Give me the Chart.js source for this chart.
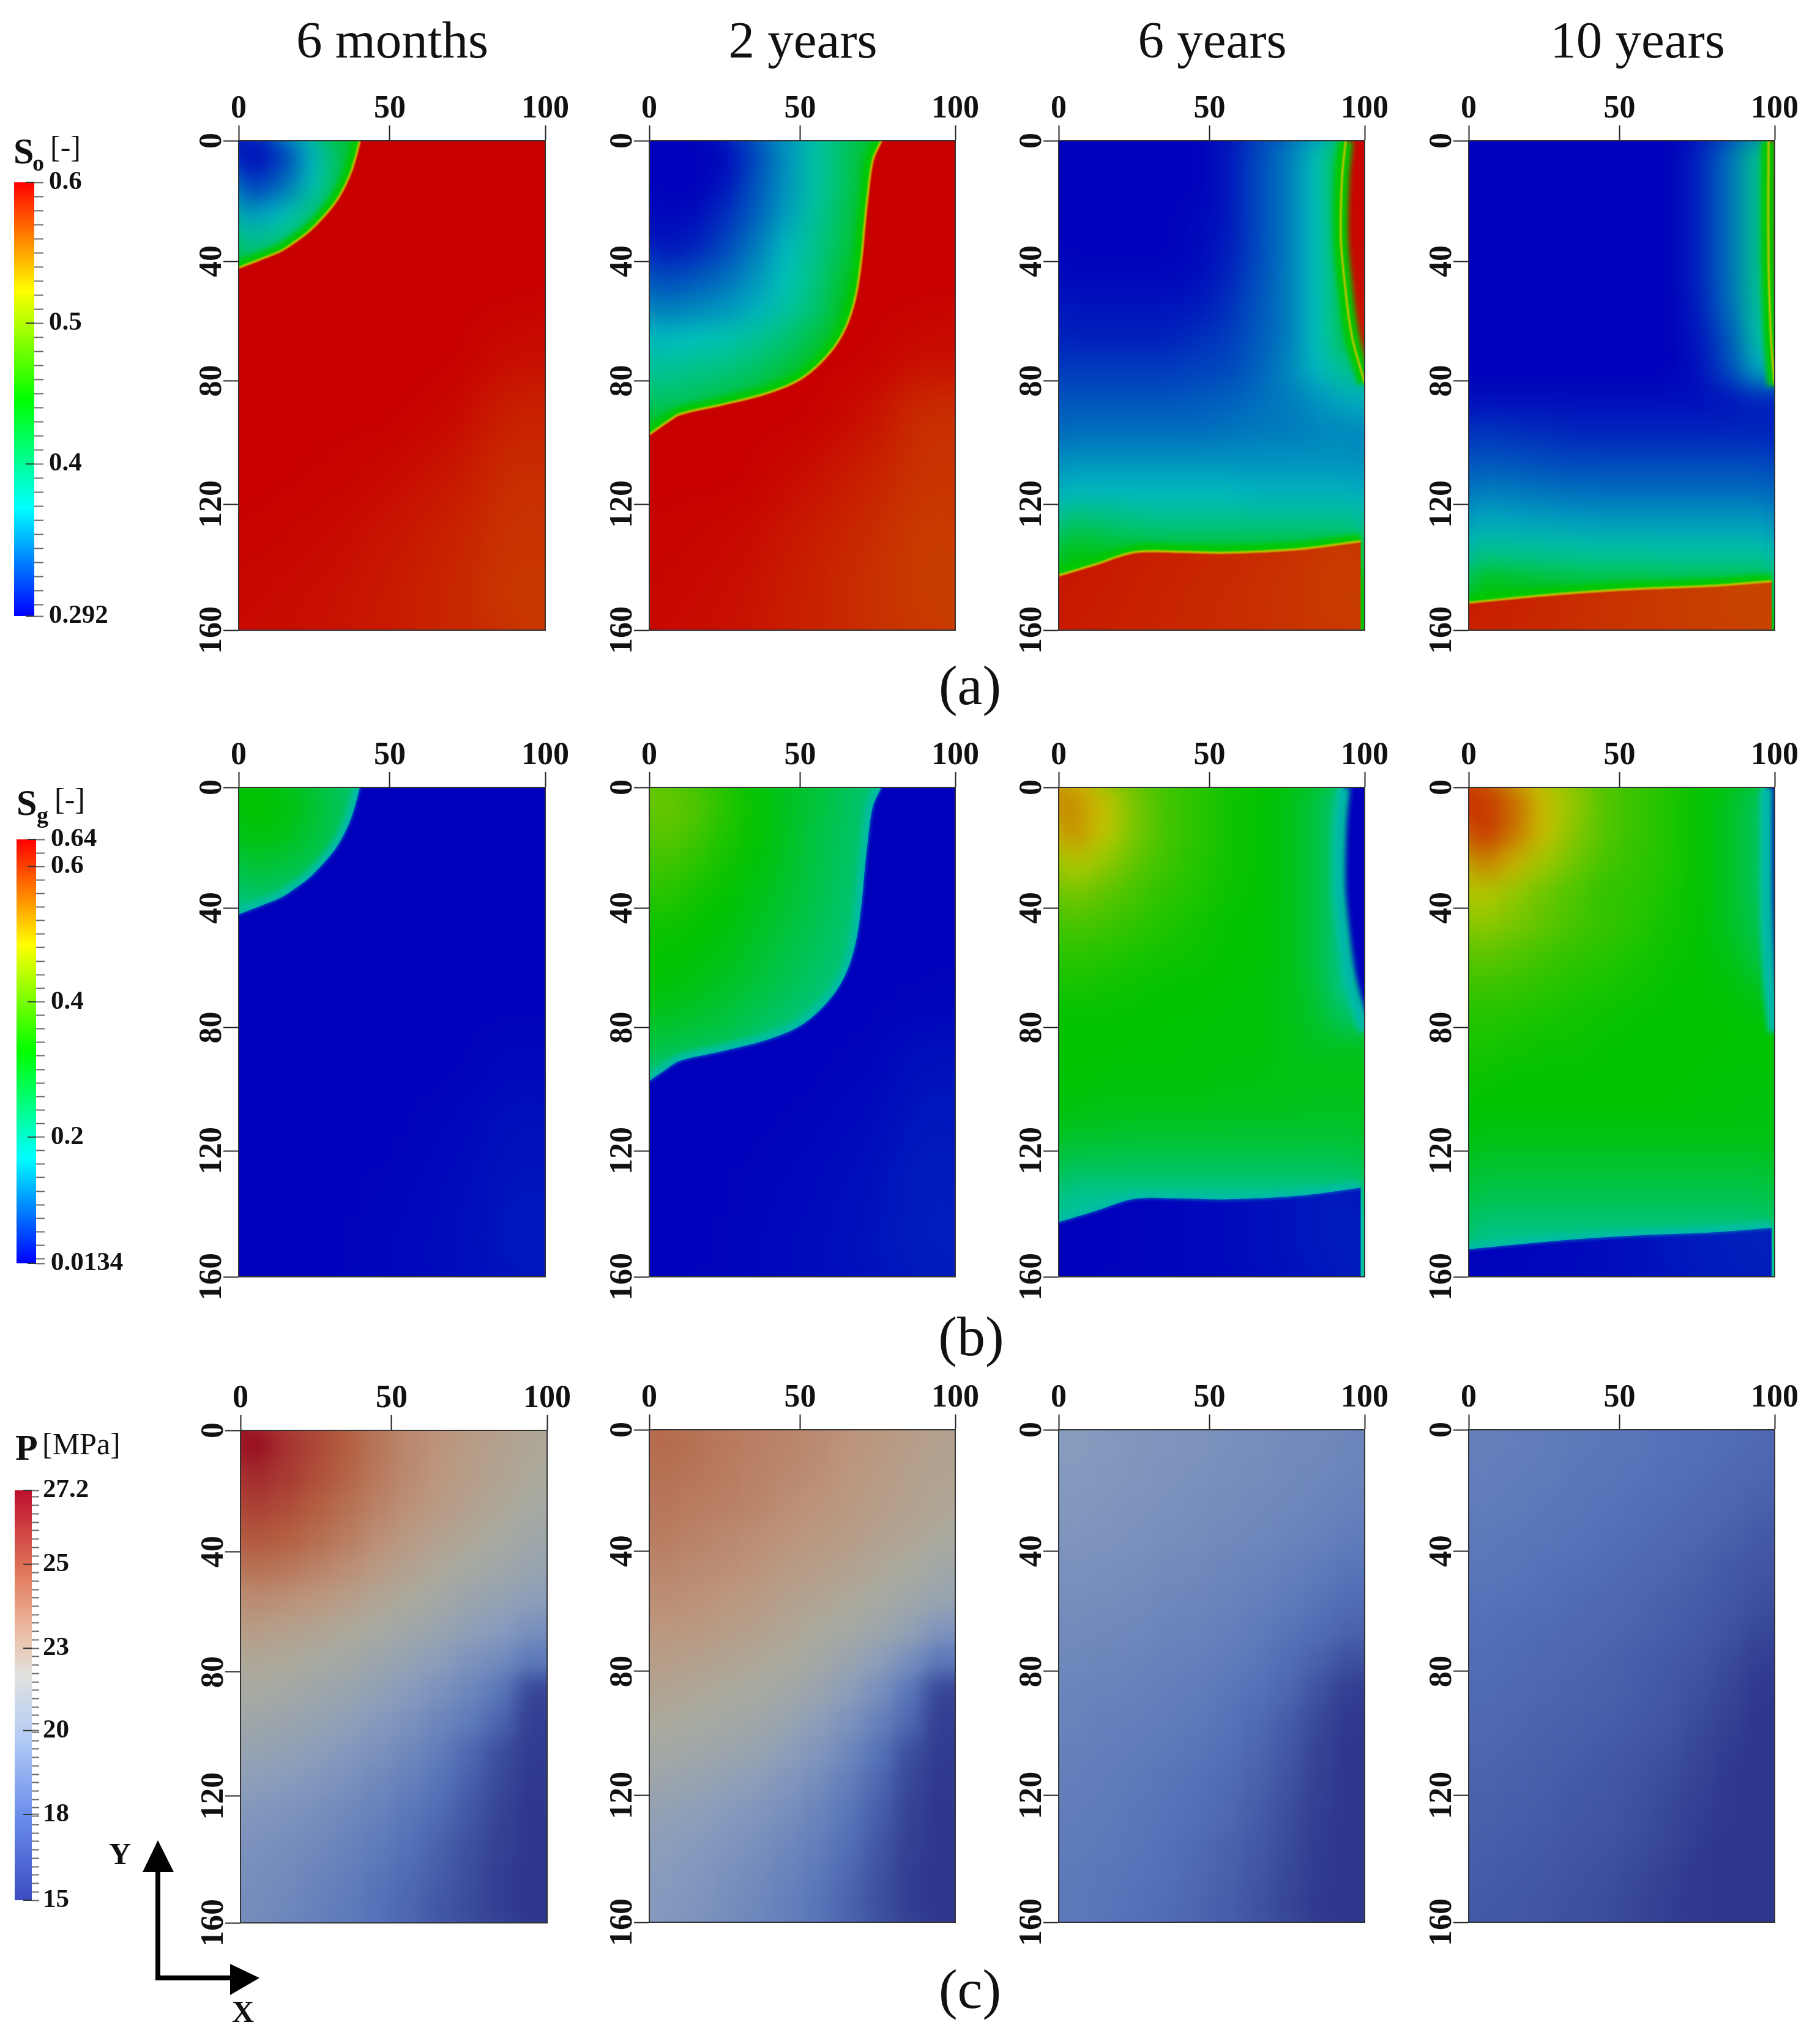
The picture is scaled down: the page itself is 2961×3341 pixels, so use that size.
<!DOCTYPE html>
<html><head><meta charset="utf-8">
<style>
html,body{margin:0;padding:0;background:#fff;width:2961px;height:3341px;overflow:hidden}
canvas{position:absolute;display:block}
.t{position:absolute;font-family:"Liberation Serif",serif;color:#111;white-space:nowrap;line-height:1}
.b{font-weight:bold}
svg{position:absolute;left:0;top:0}
</style>
<script src="https://cdn.jsdelivr.net/npm/chart.js@4"></script>
</head><body>
<svg width="2961" height="3341">
<path d="M258 3052V3233H385" fill="none" stroke="#000" stroke-width="8"/>
<path d="M258 3008L284 3060H233Z M424 3233L376 3210V3261Z" fill="#000"/>
</svg>
<script>
// ---- axis and legend labels
const timeLabels=["6 months","2 years","6 years","10 years"];
const panelLetters=["(a)","(b)","(c)"];
const xTickValues=[0,49.3,100];
const xTickLabels=["0","50","100"];
const yTickValues=[0,39.4,78.5,118.8,160];
const yTickLabels=["0","40","80","120","160"];
const soLegendRange=[0.292,0.6];
const sgLegendRange=[0.0134,0.64];
const pLegendRange=[15,27.2];
const soLegendLabels=[[0.292,"0.292"],[0.4,"0.4"],[0.5,"0.5"],[0.6,"0.6"]];
const sgLegendLabels=[[0.0134,"0.0134"],[0.2,"0.2"],[0.4,"0.4"],[0.6,"0.6"],[0.64,"0.64"]];
const pLegendLabels=[[15,"15"],[17.55,"18"],[20.05,"20"],[22.5,"23"],[25,"25"],[27.2,"27.2"]];

// ---- cell centres
const cellX=[5,15,25,35,45,55,65,75,85,95];
const cellY=[5,15,25,35,45,55,65,75,85,95,105,115,125,135,145,155];
const coarseX=[10,30,50,70,90];
const coarseY=[10,30,50,70,90,110,130,150];

// ---- displacement fronts (x,y in grid units)
const front6m=[[39.5,0],[38.5,4],[36.7,10],[34.5,15],[31.6,20],[27.5,25],[22.7,29.8],[18,33.3],[13.8,36],[7,38.8],[0,41.5]];
const front6mClose=[[0,160],[100,160],[100,0]];
const front2y=[[75.8,0],[73,6.5],[71.3,18.6],[70.3,28],[69.4,37.8],[67.5,50.5],[64.3,60.7],[59.2,69],[50.3,77.3],[38.8,82.4],[23.5,86.3],[10,89.4],[5.7,92],[0,96]];
const front2yClose=[[0,160],[100,160],[100,0]];
const front6yRight=[[93.8,0],[92.6,12.3],[92.2,31.4],[93.2,44],[95.7,63.3],[100,79.2]];
const front6yRightGas=[[93,0],[91.9,12.3],[91.5,31.4],[92.5,44],[95.2,63.3],[100,79.5]];
const front6yRightClose=[[100,0]];
const front6yBottom=[[0,142.1],[12,138.5],[24.9,134.5],[40,134.4],[54,134.7],[78.5,133.5],[98.7,130.9]];
const front6yBottomClose=[[98.7,160],[0,160]];
const front10yRight=[[98,0],[97.9,20],[98,40],[98.4,55],[99,68],[100,80]];
const front10yRightGas=[[97.2,0],[97.1,20],[97.3,40],[97.8,55],[98.6,68],[100,80]];
const front10yRightClose=[[100,0]];
const front10yBottom=[[0,151],[30.3,148.1],[54.8,146.5],[79.3,145.5],[99,144]];
const front10yBottomClose=[[99,160],[0,160]];

// ---- oil saturation, invaded zone
const so6mInner=[
[.292,.315,.365,.42,.45,.45,.45,.45,.45,.45],
[.315,.335,.375,.425,.45,.45,.45,.45,.45,.45],
[.355,.37,.40,.44,.45,.45,.45,.45,.45,.45],
[.39,.405,.435,.45,.45,.45,.45,.45,.45,.45],
[.43,.44,.45,.45,.45,.45,.45,.45,.45,.45],
[.45,.45,.45,.45,.45,.45,.45,.45,.45,.45],
[.45,.45,.45,.45,.45,.45,.45,.45,.45,.45],[.45,.45,.45,.45,.45,.45,.45,.45,.45,.45],
[.45,.45,.45,.45,.45,.45,.45,.45,.45,.45],[.45,.45,.45,.45,.45,.45,.45,.45,.45,.45],
[.45,.45,.45,.45,.45,.45,.45,.45,.45,.45],[.45,.45,.45,.45,.45,.45,.45,.45,.45,.45],
[.45,.45,.45,.45,.45,.45,.45,.45,.45,.45],[.45,.45,.45,.45,.45,.45,.45,.45,.45,.45],
[.45,.45,.45,.45,.45,.45,.45,.45,.45,.45],[.45,.45,.45,.45,.45,.45,.45,.45,.45,.45]];
const so2yInner=[
[.292,.292,.295,.32,.35,.38,.41,.44,.45,.45],
[.292,.292,.30,.325,.35,.38,.41,.445,.45,.45],
[.295,.297,.31,.33,.355,.385,.415,.45,.45,.45],
[.30,.305,.32,.34,.365,.39,.42,.45,.45,.45],
[.32,.325,.335,.35,.372,.395,.43,.45,.45,.45],
[.34,.345,.35,.362,.38,.40,.44,.45,.45,.45],
[.365,.37,.375,.385,.40,.42,.45,.45,.45,.45],
[.385,.39,.395,.405,.42,.44,.45,.45,.45,.45],
[.405,.41,.42,.43,.45,.45,.45,.45,.45,.45],
[.44,.45,.45,.45,.45,.45,.45,.45,.45,.45],
[.45,.45,.45,.45,.45,.45,.45,.45,.45,.45],[.45,.45,.45,.45,.45,.45,.45,.45,.45,.45],
[.45,.45,.45,.45,.45,.45,.45,.45,.45,.45],[.45,.45,.45,.45,.45,.45,.45,.45,.45,.45],
[.45,.45,.45,.45,.45,.45,.45,.45,.45,.45],[.45,.45,.45,.45,.45,.45,.45,.45,.45,.45]];
const so6yInner=[
[.292,.292,.292,.292,.292,.30,.32,.34,.372,.44],
[.292,.292,.292,.292,.292,.30,.32,.34,.372,.44],
[.292,.292,.292,.292,.295,.30,.32,.34,.37,.435],
[.292,.292,.292,.292,.295,.302,.32,.34,.37,.43],
[.295,.295,.295,.295,.297,.305,.322,.34,.37,.425],
[.30,.30,.30,.30,.302,.31,.325,.34,.37,.42],
[.305,.305,.305,.305,.31,.315,.327,.34,.37,.42],
[.315,.315,.315,.315,.318,.32,.33,.345,.365,.39],
[.325,.325,.325,.325,.327,.33,.335,.34,.35,.36],
[.335,.335,.335,.335,.335,.337,.34,.34,.345,.345],
[.35,.35,.35,.35,.35,.35,.35,.35,.35,.35],
[.365,.365,.365,.365,.365,.365,.362,.362,.362,.362],
[.405,.40,.395,.39,.39,.39,.39,.39,.39,.39],
[.44,.435,.43,.43,.43,.43,.43,.43,.43,.43],
[.45,.45,.45,.45,.45,.45,.45,.45,.45,.45],[.45,.45,.45,.45,.45,.45,.45,.45,.45,.45]];
const so10yInner=[
[.292,.292,.292,.292,.292,.292,.292,.305,.335,.39],
[.292,.292,.292,.292,.292,.292,.292,.305,.335,.39],
[.292,.292,.292,.292,.292,.292,.292,.305,.335,.39],
[.292,.292,.292,.292,.292,.292,.292,.305,.335,.39],
[.292,.292,.292,.292,.292,.292,.292,.305,.335,.39],
[.292,.292,.292,.292,.292,.292,.292,.303,.333,.385],
[.292,.292,.292,.292,.292,.292,.292,.30,.325,.38],
[.292,.292,.292,.292,.292,.292,.292,.298,.32,.36],
[.298,.298,.298,.298,.298,.298,.298,.298,.30,.305],
[.312,.31,.308,.306,.306,.306,.306,.306,.306,.306],
[.326,.324,.322,.32,.32,.32,.32,.32,.32,.32],
[.342,.34,.338,.336,.335,.335,.335,.335,.335,.335],
[.36,.358,.356,.355,.354,.354,.354,.354,.354,.354],
[.39,.387,.385,.383,.381,.381,.38,.38,.38,.38],
[.44,.435,.43,.425,.425,.425,.42,.42,.42,.42],
[.45,.45,.45,.45,.45,.45,.45,.45,.45,.45]];

// ---- oil saturation, undisturbed zone
const so6mOuter=[[.6,.6,.6,.6,.6],[.6,.6,.6,.6,.6],[.6,.6,.6,.6,.6],[.6,.6,.6,.6,.595],[.6,.6,.6,.597,.587],[.6,.599,.596,.591,.582],[.598,.596,.592,.587,.58],[.596,.594,.59,.585,.578]];
const so2yOuter=[[.6,.6,.6,.6,.6],[.6,.6,.6,.6,.6],[.6,.6,.6,.6,.6],[.6,.6,.6,.6,.595],[.6,.6,.6,.595,.582],[.6,.6,.595,.588,.58],[.598,.596,.59,.584,.577],[.597,.594,.588,.582,.577]];
const so6yOuter=[[.6,.6,.6,.6,.598],[.6,.6,.6,.6,.598],[.6,.6,.6,.6,.595],[.6,.6,.6,.6,.59],[.6,.6,.6,.6,.59],[.6,.6,.6,.6,.585],[.592,.589,.586,.583,.578],[.59,.587,.584,.581,.577]];
const so10yOuter=[[.6,.6,.6,.6,.598],[.6,.6,.6,.6,.598],[.6,.6,.6,.6,.595],[.6,.6,.6,.6,.59],[.6,.6,.6,.6,.59],[.6,.6,.6,.6,.585],[.59,.587,.583,.58,.576],[.588,.584,.58,.577,.574]];

// ---- gas saturation, invaded zone
const sg6mInner=[
[.33,.32,.29,.25,.22,.2,.2,.2,.2,.2],
[.32,.31,.28,.25,.21,.2,.2,.2,.2,.2],
[.29,.28,.26,.23,.2,.2,.2,.2,.2,.2],
[.25,.24,.22,.2,.2,.2,.2,.2,.2,.2],
[.2,.2,.2,.2,.2,.2,.2,.2,.2,.2],[.2,.2,.2,.2,.2,.2,.2,.2,.2,.2],
[.2,.2,.2,.2,.2,.2,.2,.2,.2,.2],[.2,.2,.2,.2,.2,.2,.2,.2,.2,.2],
[.2,.2,.2,.2,.2,.2,.2,.2,.2,.2],[.2,.2,.2,.2,.2,.2,.2,.2,.2,.2],
[.2,.2,.2,.2,.2,.2,.2,.2,.2,.2],[.2,.2,.2,.2,.2,.2,.2,.2,.2,.2],
[.2,.2,.2,.2,.2,.2,.2,.2,.2,.2],[.2,.2,.2,.2,.2,.2,.2,.2,.2,.2],
[.2,.2,.2,.2,.2,.2,.2,.2,.2,.2],[.2,.2,.2,.2,.2,.2,.2,.2,.2,.2]];
const sg2yInner=[
[.41,.39,.36,.33,.30,.28,.25,.22,.2,.2],
[.40,.38,.35,.33,.30,.27,.25,.22,.2,.2],
[.38,.36,.34,.32,.295,.27,.245,.22,.2,.2],
[.36,.34,.33,.31,.29,.265,.24,.22,.2,.2],
[.34,.33,.32,.30,.28,.26,.235,.21,.2,.2],
[.33,.32,.31,.29,.27,.25,.23,.2,.2,.2],
[.32,.31,.295,.28,.26,.24,.22,.2,.2,.2],
[.30,.29,.28,.26,.24,.22,.2,.2,.2,.2],
[.27,.26,.25,.23,.21,.2,.2,.2,.2,.2],
[.22,.22,.2,.2,.2,.2,.2,.2,.2,.2],
[.2,.2,.2,.2,.2,.2,.2,.2,.2,.2],[.2,.2,.2,.2,.2,.2,.2,.2,.2,.2],
[.2,.2,.2,.2,.2,.2,.2,.2,.2,.2],[.2,.2,.2,.2,.2,.2,.2,.2,.2,.2],
[.2,.2,.2,.2,.2,.2,.2,.2,.2,.2],[.2,.2,.2,.2,.2,.2,.2,.2,.2,.2]];
const sg6yInner=[
[.53,.49,.42,.38,.36,.34,.33,.31,.27,.2],
[.53,.48,.42,.38,.36,.34,.33,.31,.27,.2],
[.47,.44,.40,.375,.355,.34,.33,.31,.27,.2],
[.42,.40,.38,.36,.35,.335,.33,.31,.27,.2],
[.385,.375,.365,.35,.34,.33,.325,.31,.27,.2],
[.36,.355,.345,.34,.335,.33,.325,.31,.27,.2],
[.345,.34,.335,.33,.33,.325,.32,.31,.28,.2],
[.33,.33,.33,.325,.325,.32,.32,.31,.29,.24],
[.33,.33,.325,.325,.32,.32,.32,.31,.30,.30],
[.325,.32,.32,.32,.32,.315,.315,.31,.31,.31],
[.315,.31,.31,.31,.31,.305,.305,.305,.30,.30],
[.29,.29,.285,.285,.285,.285,.285,.285,.285,.285],
[.25,.25,.25,.25,.25,.25,.25,.25,.25,.25],
[.2,.2,.2,.2,.2,.2,.2,.2,.2,.2],[.2,.2,.2,.2,.2,.2,.2,.2,.2,.2],[.2,.2,.2,.2,.2,.2,.2,.2,.2,.2]];
const sg10yInner=[
[.60,.56,.49,.44,.39,.37,.35,.33,.30,.25],
[.60,.55,.49,.43,.39,.37,.35,.33,.30,.25],
[.54,.50,.45,.41,.38,.365,.35,.33,.30,.25],
[.47,.44,.41,.385,.365,.36,.345,.33,.30,.25],
[.44,.42,.40,.38,.37,.355,.34,.33,.30,.26],
[.40,.39,.375,.365,.355,.345,.335,.33,.31,.27],
[.375,.37,.36,.35,.345,.34,.33,.33,.32,.30],
[.355,.35,.345,.34,.335,.33,.33,.33,.325,.32],
[.345,.34,.335,.335,.33,.33,.33,.33,.325,.325],
[.335,.33,.33,.33,.33,.33,.33,.325,.32,.32],
[.325,.325,.325,.325,.325,.325,.325,.32,.32,.315],
[.31,.31,.31,.31,.31,.31,.31,.31,.31,.31],
[.285,.285,.285,.285,.285,.285,.285,.285,.285,.285],
[.26,.26,.26,.26,.26,.26,.26,.26,.26,.26],
[.22,.22,.22,.22,.22,.22,.22,.22,.22,.22],
[.2,.2,.2,.2,.2,.2,.2,.2,.2,.2]];

// ---- gas saturation, undisturbed zone
const sg6mOuter=[[.0134,.0134,.0134,.0134,.0134],[.0134,.0134,.0134,.0134,.0134],[.0134,.0134,.0134,.0134,.0134],[.0134,.0134,.0134,.0134,.0134],[.0134,.0134,.0134,.0134,.02],[.0134,.0134,.0134,.018,.028],[.0134,.0134,.016,.022,.03],[.0134,.0134,.018,.024,.032]];
const sg2yOuter=[[.0134,.0134,.0134,.0134,.0134],[.0134,.0134,.0134,.0134,.0134],[.0134,.0134,.0134,.0134,.0134],[.0134,.0134,.0134,.0134,.016],[.0134,.0134,.0134,.016,.028],[.0134,.0134,.016,.022,.032],[.0134,.015,.02,.026,.036],[.0134,.016,.022,.028,.036]];
const sg6yOuter=[[.0134,.0134,.0134,.0134,.0134],[.0134,.0134,.0134,.0134,.0134],[.0134,.0134,.0134,.0134,.0134],[.0134,.0134,.0134,.0134,.0134],[.0134,.0134,.0134,.0134,.0134],[.0134,.0134,.0134,.0134,.0134],[.0134,.016,.02,.026,.034],[.0134,.016,.02,.026,.034]];
const sg10yOuter=[[.0134,.0134,.0134,.0134,.0134],[.0134,.0134,.0134,.0134,.0134],[.0134,.0134,.0134,.0134,.0134],[.0134,.0134,.0134,.0134,.0134],[.0134,.0134,.0134,.0134,.0134],[.0134,.0134,.0134,.0134,.0134],[.015,.02,.025,.032,.038],[.015,.02,.025,.032,.038]];

// ---- pressure
const p6m=[
[27.0,26.0,25.4,24.8,24.0,23.4,23.0,22.6,22.3,22.0],
[26.2,25.8,25.2,24.6,23.9,23.3,22.9,22.5,22.2,21.9],
[25.6,25.3,24.8,24.2,23.6,23.1,22.7,22.3,22.0,21.6],
[25.0,24.8,24.3,23.8,23.2,22.7,22.3,22.0,21.6,21.2],
[24.2,24.0,23.6,23.2,22.7,22.3,21.9,21.5,21.2,20.8],
[23.3,23.1,22.9,22.5,22.1,21.8,21.4,20.9,20.6,20.2],
[22.6,22.4,22.2,21.9,21.6,21.2,20.8,20.3,19.9,19.2],
[22.0,21.9,21.6,21.4,21.0,20.6,20.1,19.4,18.9,17.8],
[21.6,21.4,21.1,20.8,20.4,19.9,19.3,18.6,17.6,15.6],
[21.1,20.9,20.6,20.3,19.8,19.3,18.6,17.9,16.8,15.3],
[20.6,20.4,20.1,19.7,19.3,18.7,18.0,17.0,15.9,15.2],
[20.1,19.9,19.6,19.2,18.7,18.2,17.5,16.6,15.7,15.1],
[19.6,19.4,19.1,18.7,18.3,17.7,17.1,16.3,15.5,15.0],
[19.3,19.1,18.8,18.4,17.9,17.4,16.7,16.0,15.4,15.0],
[19.1,18.9,18.5,18.1,17.6,17.1,16.5,15.9,15.3,15.0],
[19.0,18.7,18.3,17.9,17.4,16.9,16.3,15.8,15.3,15.0]];
const p2y=[
[24.4,24.2,23.9,23.7,23.5,23.3,23.0,22.8,22.5,22.3],
[24.2,24.0,23.8,23.6,23.4,23.2,22.9,22.7,22.4,22.2],
[24.0,23.8,23.7,23.5,23.2,23.0,22.8,22.5,22.3,22.1],
[23.8,23.6,23.4,23.2,23.0,22.8,22.6,22.3,22.1,21.8],
[23.5,23.3,23.2,23.0,22.7,22.5,22.3,22.0,21.7,21.3],
[23.2,23.1,22.9,22.7,22.4,22.2,21.9,21.6,21.2,20.8],
[22.9,22.8,22.6,22.4,22.1,21.8,21.5,21.1,20.5,19.6],
[22.5,22.4,22.2,22.0,21.8,21.4,20.9,20.2,19.2,17.8],
[22.2,22.0,21.8,21.6,21.3,20.9,20.1,19.2,17.7,15.6],
[21.8,21.6,21.4,21.2,20.8,20.2,19.4,18.3,17.0,15.3],
[21.4,21.2,21.0,20.7,20.2,19.6,18.7,17.5,16.0,15.2],
[20.9,20.7,20.4,20.1,19.6,19.0,18.1,17.0,15.7,15.1],
[20.4,20.2,19.9,19.6,19.1,18.5,17.6,16.6,15.5,15.0],
[20.1,19.9,19.6,19.2,18.7,18.1,17.3,16.3,15.4,15.0],
[19.9,19.7,19.3,18.9,18.4,17.8,17.0,16.1,15.3,15.0],
[19.8,19.5,19.1,18.7,18.2,17.6,16.8,16.0,15.3,15.0]];
const p6y=[
[19.9,19.8,19.6,19.5,19.4,19.2,19.1,18.9,18.8,18.6],
[19.8,19.7,19.6,19.4,19.3,19.1,19.0,18.8,18.7,18.5],
[19.7,19.6,19.4,19.3,19.1,19.0,18.8,18.7,18.5,18.3],
[19.5,19.4,19.3,19.1,19.0,18.8,18.7,18.5,18.3,18.0],
[19.3,19.2,19.1,18.9,18.8,18.6,18.4,18.2,17.9,17.6],
[19.1,19.0,18.9,18.7,18.6,18.4,18.2,17.9,17.6,17.2],
[18.9,18.8,18.7,18.5,18.4,18.2,17.9,17.6,17.2,16.8],
[18.7,18.6,18.5,18.3,18.2,18.0,17.7,17.2,16.7,16.0],
[18.5,18.4,18.3,18.1,18.0,17.7,17.4,16.9,16.1,15.3],
[18.4,18.2,18.1,18.0,17.8,17.5,17.1,16.5,15.7,15.1],
[18.2,18.1,18.0,17.8,17.6,17.3,16.9,16.3,15.5,15.0],
[18.1,18.0,17.8,17.6,17.4,17.1,16.7,16.1,15.4,15.0],
[18.0,17.9,17.7,17.5,17.3,17.0,16.5,15.9,15.3,15.0],
[17.9,17.8,17.6,17.4,17.1,16.8,16.4,15.8,15.2,15.0],
[17.8,17.7,17.5,17.3,17.0,16.7,16.2,15.7,15.2,15.0],
[17.8,17.6,17.4,17.2,16.9,16.6,16.1,15.6,15.1,15.0]];
const p10y=[
[18.2,18.1,18.0,17.8,17.7,17.6,17.4,17.3,17.2,17.0],
[18.1,18.0,17.9,17.7,17.6,17.5,17.3,17.2,17.0,16.9],
[18.0,17.9,17.7,17.6,17.5,17.3,17.2,17.0,16.9,16.7],
[17.8,17.7,17.6,17.5,17.3,17.2,17.0,16.9,16.7,16.4],
[17.7,17.6,17.4,17.3,17.2,17.0,16.9,16.7,16.4,16.2],
[17.5,17.4,17.3,17.1,17.0,16.9,16.7,16.5,16.3,16.0],
[17.3,17.2,17.1,17.0,16.9,16.8,16.6,16.4,16.1,15.7],
[17.2,17.1,17.0,16.9,16.8,16.6,16.4,16.2,15.8,15.3],
[17.1,17.0,16.9,16.8,16.7,16.5,16.3,16.0,15.6,15.1],
[17.0,16.9,16.8,16.7,16.6,16.4,16.2,15.8,15.4,15.0],
[16.9,16.8,16.7,16.6,16.4,16.2,16.0,15.6,15.2,15.0],
[16.8,16.7,16.6,16.4,16.3,16.1,15.8,15.5,15.1,15.0],
[16.7,16.6,16.5,16.3,16.2,16.0,15.7,15.3,15.1,15.0],
[16.6,16.5,16.4,16.2,16.1,15.9,15.6,15.2,15.0,15.0],
[16.5,16.4,16.3,16.1,16.0,15.7,15.4,15.1,15.0,15.0],
[16.4,16.3,16.2,16.0,15.9,15.6,15.3,15.1,15.0,15.0]];

// ---- colour maps (stop position, r, g, b)
const rainbowStops=[[0,0,0,255],[.25,0,255,255],[.5,0,255,0],[.75,255,255,0],[1,255,0,0]];
const panelRainbowStops=[[0,0,0,188],[.25,0,195,190],[.5,0,195,0],[.75,200,200,0],[1,200,0,0]];
const coolWarmStops=[[0,59,76,192],[.2,105,140,235],[.4,180,205,245],[.55,225,225,222],[.65,235,190,165],[.8,225,120,90],[1,190,15,45]];
const panelCoolWarmStops=[[0,45,55,140],[.2,85,115,185],[.4,135,155,190],[.55,170,172,160],[.65,188,150,125],[.8,180,95,65],[1,150,5,30]];
function mapColor(stops,t){
  t=Math.max(0,Math.min(1,t));
  for(let i=1;i<stops.length;i++){ if(t<=stops[i][0]){
    const a=stops[i-1],b=stops[i],f=(t-a[0])/(b[0]-a[0]);
    const c=[1,2,3].map(k=>Math.round(a[k]+(b[k]-a[k])*f));
    return `rgb(${c[0]},${c[1]},${c[2]})`; } }
  return 'rgb(0,0,0)';
}
const FONT='"Liberation Serif"';
const INK='#111';

// ---- smoothing and zone handling for the field cells
function smooth(chart,sigma){
  const a=chart.chartArea,c=chart.canvas,ctx=chart.ctx,p=Math.ceil(sigma*3);
  const w=a.right-a.left,h=a.bottom-a.top;
  const tmp=document.createElement('canvas');tmp.width=w+2*p;tmp.height=h+2*p;
  const t=tmp.getContext('2d');
  t.drawImage(c,a.left,a.top,w,h,0,0,w+2*p,h+2*p);
  t.drawImage(c,a.left,a.top,w,h,p,p,w,h);
  ctx.save();ctx.beginPath();ctx.rect(a.left,a.top,w,h);ctx.clip();
  ctx.filter=`blur(${sigma}px)`;ctx.drawImage(tmp,a.left-p,a.top-p);ctx.restore();
}
const fieldPlugin={id:'field',
  beforeDatasetDraw(chart,args){
    const ds=chart.data.datasets[args.index],ctx=chart.ctx;
    if(ds.role==='inner'){
      const a=chart.chartArea,s=document.createElement('canvas');
      s.width=a.right-a.left;s.height=a.bottom-a.top;
      s.getContext('2d').drawImage(chart.canvas,a.left,a.top,s.width,s.height,0,0,s.width,s.height);
      chart.$outerSnap=s;
    }
    if(ds.softness){ctx.save();ctx.filter=`blur(${ds.softness}px)`;}
  },
  afterDatasetDraw(chart,args){
    const ds=chart.data.datasets[args.index],ctx=chart.ctx;
    if(ds.softness){ctx.filter='none';ctx.restore();}
    if(ds.smoothing)smooth(chart,ds.smoothing);
    if(ds.restoreOuter){
      const a=chart.chartArea;
      ctx.save();ctx.beginPath();
      chart.data.datasets.forEach((d,i)=>{ if(d.role!=='glow')return;
        chart.getDatasetMeta(i).dataset.path(ctx);
        d.closing.forEach(q=>ctx.lineTo(chart.scales.x.getPixelForValue(q[0]),chart.scales.y.getPixelForValue(q[1])));
        ctx.closePath();
      });
      ctx.clip();ctx.drawImage(chart.$outerSnap,a.left,a.top);ctx.restore();
    }
  },
  afterDraw(chart){
    const a=chart.chartArea,ctx=chart.ctx;
    ctx.save();ctx.strokeStyle='#333';ctx.lineWidth=2;
    ctx.strokeRect(a.left,a.top,a.right-a.left,a.bottom-a.top);
    ctx.fillStyle=INK;ctx.font=`bold 52px ${FONT}`;ctx.textAlign='center';ctx.textBaseline='alphabetic';
    yTickValues.forEach((v,i)=>{
      ctx.save();ctx.translate(a.left-29,chart.scales.y.getPixelForValue(v));ctx.rotate(-Math.PI/2);
      ctx.fillText(yTickLabels[i],0,0);ctx.restore();
    });
    ctx.restore();
  }
};

function cellDataset(role,grid,xs,ys,size,stops,range,smoothing,order){
  const data=[];
  grid.forEach((row,j)=>row.forEach((v,i)=>data.push({x:xs[i],y:ys[j],v})));
  return {role,data,order,smoothing,showLine:false,pointStyle:'rect',pointBorderWidth:0,
    pointRadius:c=>{const s=c.chart.scales.x;return Math.abs(s.getPixelForValue(size)-s.getPixelForValue(0))/2*Math.SQRT2+1.5;},
    pointBackgroundColor:c=>c.raw?mapColor(stops,(c.raw.v-range[0])/(range[1]-range[0])):'#000'};
}
function frontDatasets(front,closing,look,last){
  const data=front.map(q=>({x:q[0],y:q[1]}));
  return [
   {role:'glow',closing,data,order:3,showLine:true,pointRadius:0,tension:.35,fill:false,borderColor:look.glow,borderWidth:look.glowWidth,softness:look.glowSoft,restoreOuter:last,borderCapStyle:'butt'},
   {role:'core',data,order:1,showLine:true,pointRadius:0,tension:.35,fill:false,borderColor:look.core,borderWidth:look.coreWidth,softness:look.coreSoft,borderCapStyle:'butt'}
  ];
}
const soLook={glow:'rgb(0,200,0)',glowWidth:24,glowSoft:4,core:'rgb(195,195,0)',coreWidth:3.5,coreSoft:1};
const sgLook={glow:'rgb(0,190,160)',glowWidth:22,glowSoft:4,core:'rgba(0,165,185,.55)',coreWidth:4,coreSoft:2};

function panel(box,datasets){
  const padL=110,padT=120,padR=60,padB=60;
  const cv=document.createElement('canvas');
  const W=box.r-box.l+padL+padR,H=box.b-box.t+padT+padB;
  cv.width=W;cv.height=H;cv.style.left=(box.l-padL)+'px';cv.style.top=(box.t-padT)+'px';
  document.body.appendChild(cv);
  new Chart(cv,{type:'scatter',data:{datasets},plugins:[fieldPlugin],options:{
    responsive:false,animation:false,devicePixelRatio:1,events:[],
    layout:{autoPadding:false,padding:{right:padR,bottom:padB,left:0,top:0}},
    plugins:{legend:{display:false},tooltip:{enabled:false},title:{display:false}},
    scales:{
      x:{type:'linear',position:'top',min:0,max:100,afterFit:s=>{s.height=padT;},
        afterBuildTicks:s=>{s.ticks=xTickValues.map(value=>({value}));},
        grid:{drawOnChartArea:false,drawTicks:true,tickLength:25,tickColor:'#222',tickWidth:2},
        border:{color:'#222',width:2},
        ticks:{color:INK,font:{family:FONT,weight:'bold',size:52},padding:-5,maxRotation:0,autoSkip:false,
          callback:v=>xTickLabels[xTickValues.indexOf(v)]}},
      y:{type:'linear',position:'left',reverse:true,min:0,max:160,afterFit:s=>{s.width=padL;},
        afterBuildTicks:s=>{s.ticks=yTickValues.map(value=>({value}));},
        grid:{drawOnChartArea:false,drawTicks:true,tickLength:25,tickColor:'#222',tickWidth:2},
        border:{color:'#222',width:2},
        ticks:{display:false}}
    }}});
}

function legendBar(cfg){
  const padT=45,padB=45,W=260;
  const cv=document.createElement('canvas');
  cv.width=W;cv.height=cfg.b-cfg.t+padT+padB;
  cv.style.left='0px';cv.style.top=(cfg.t-padT)+'px';
  document.body.appendChild(cv);
  const ticks=[];
  for(let k=0;cfg.first+k*cfg.step<=cfg.range[1]+1e-9;k++)ticks.push(+(cfg.first+k*cfg.step).toFixed(4));
  cfg.labels.forEach(l=>{if(!ticks.includes(l[0]))ticks.push(l[0]);});
  ticks.sort((a,b)=>a-b);
  const major=new Map(cfg.labels);
  const ink={id:'majorTicks',afterDatasetsDraw(chart){
    const a=chart.chartArea,ctx=chart.ctx;ctx.save();ctx.strokeStyle='#333';ctx.lineWidth=2;
    cfg.labels.forEach(l=>{const y=chart.scales.y.getPixelForValue(l[0]);ctx.beginPath();ctx.moveTo(a.right-14,y);ctx.lineTo(a.right,y);ctx.stroke();});
    ctx.restore();}};
  new Chart(cv,{type:'bar',data:{labels:[''],datasets:[{data:[cfg.range],barPercentage:1,categoryPercentage:1,borderWidth:0,
    backgroundColor:c=>{const a=c.chart.chartArea;if(!a)return '#888';
      const g=c.chart.ctx.createLinearGradient(0,a.bottom,0,a.top);
      for(let i=0;i<=40;i++)g.addColorStop(i/40,mapColor(cfg.stops,i/40));
      return g;}}]},
    plugins:[ink],options:{responsive:false,animation:false,devicePixelRatio:1,events:[],
    layout:{autoPadding:false,padding:{left:cfg.l,top:padT,bottom:padB,right:0}},
    plugins:{legend:{display:false},tooltip:{enabled:false}},
    scales:{
      x:{display:false,offset:true,grid:{display:false}},
      y:{type:'linear',position:'right',min:cfg.range[0],max:cfg.range[1],afterFit:s=>{s.width=W-cfg.r;},
        afterBuildTicks:s=>{s.ticks=ticks.map(value=>({value}));},
        grid:{drawOnChartArea:false,drawTicks:true,tickLength:cfg.tick,tickColor:'#666',tickWidth:2},
        border:{display:false},
        ticks:{color:INK,autoSkip:false,padding:cfg.gap,font:{family:FONT,weight:'bold',size:43},
          callback:v=>major.has(v)?major.get(v):''}}
    }}});
}

function text(str,x,y,size,cls,anchor){
  const d=document.createElement('div');d.className='t '+(cls||'');d.textContent=str;
  d.style.fontSize=size+'px';d.style.left=x+'px';d.style.top=(y-size*0.891)+'px';
  d.style.lineHeight=size*1.107+'px';
  if(anchor==='c')d.style.transform='translateX(-50%)';
  document.body.appendChild(d);
}

const colBoxes=[[390,891],[1061,1561],[1730,2230],[2400,2900]];
const rowA=[230,1030],rowB=[1287,2087],rowC=[2338,3142];
const soFields=[[so6mInner,so6mOuter,[[front6m,front6mClose]]],[so2yInner,so2yOuter,[[front2y,front2yClose]]],[so6yInner,so6yOuter,[[front6yRight,front6yRightClose],[front6yBottom,front6yBottomClose]]],[so10yInner,so10yOuter,[[front10yRight,front10yRightClose],[front10yBottom,front10yBottomClose]]]];
const sgFields=[[sg6mInner,sg6mOuter,[[front6m,front6mClose]]],[sg2yInner,sg2yOuter,[[front2y,front2yClose]]],[sg6yInner,sg6yOuter,[[front6yRightGas,front6yRightClose],[front6yBottom,front6yBottomClose]]],[sg10yInner,sg10yOuter,[[front10yRightGas,front10yRightClose],[front10yBottom,front10yBottomClose]]]];
const pFields=[p6m,p2y,p6y,p10y];

function zoned(inner,outer,fronts,range,look){
  const sets=[cellDataset('outer',outer,coarseX,coarseY,20,panelRainbowStops,range,38,10),
              cellDataset('inner',inner,cellX,cellY,10,panelRainbowStops,range,20,9)];
  fronts.forEach((f,i)=>sets.push(...frontDatasets(f[0],f[1],look,i===fronts.length-1)));
  return sets;
}
function start(){
colBoxes.forEach((c,i)=>{
  panel({l:c[0],r:c[1],t:rowA[0],b:rowA[1]},zoned(soFields[i][0],soFields[i][1],soFields[i][2],soLegendRange,soLook));
  panel({l:c[0],r:c[1],t:rowB[0],b:rowB[1]},zoned(sgFields[i][0],sgFields[i][1],sgFields[i][2],sgLegendRange,sgLook));
  const pl=i===0?c[0]+3:c[0];
  panel({l:pl,r:pl+(c[1]-c[0]),t:i===0?rowC[0]:rowC[0]-1,b:i===0?rowC[1]+1:rowC[1]},[cellDataset('outer',pFields[i],cellX,cellY,10,panelCoolWarmStops,pLegendRange,16,10)]);
});
legendBar({l:23,r:56,t:298,b:1007,range:soLegendRange,labels:soLegendLabels,stops:rainbowStops,first:.3,step:.01,tick:15,gap:9});
legendBar({l:27,r:59,t:1372,b:2065,range:sgLegendRange,labels:sgLegendLabels,stops:rainbowStops,first:.02,step:.02,tick:14,gap:10});
legendBar({l:24,r:52,t:2436,b:3106,range:pLegendRange,labels:pLegendLabels,stops:coolWarmStops,first:15,step:.25,tick:12,gap:6});

const centers=[641,1312,1981,2676];
timeLabels.forEach((s,i)=>text(s,centers[i],94,85,'','c'));
[[1585,1152],[1587,2216],[1585,3283]].forEach((q,i)=>text(panelLetters[i],q[0],q[1],92,'','c'));
text('S',22,267,60,'b');text('o',53,279,38,'b');text('[-]',82,258,50);
text('S',27,1332,60,'b');text('g',60,1345,38,'b');text('[-]',89,1324,50);
text('P',25,2386,60,'b');text('[MPa]',69,2378,50);
text('Y',178,3048,50,'b');text('X',379,3306,50,'b');
}
start();
</script>
</body></html>
